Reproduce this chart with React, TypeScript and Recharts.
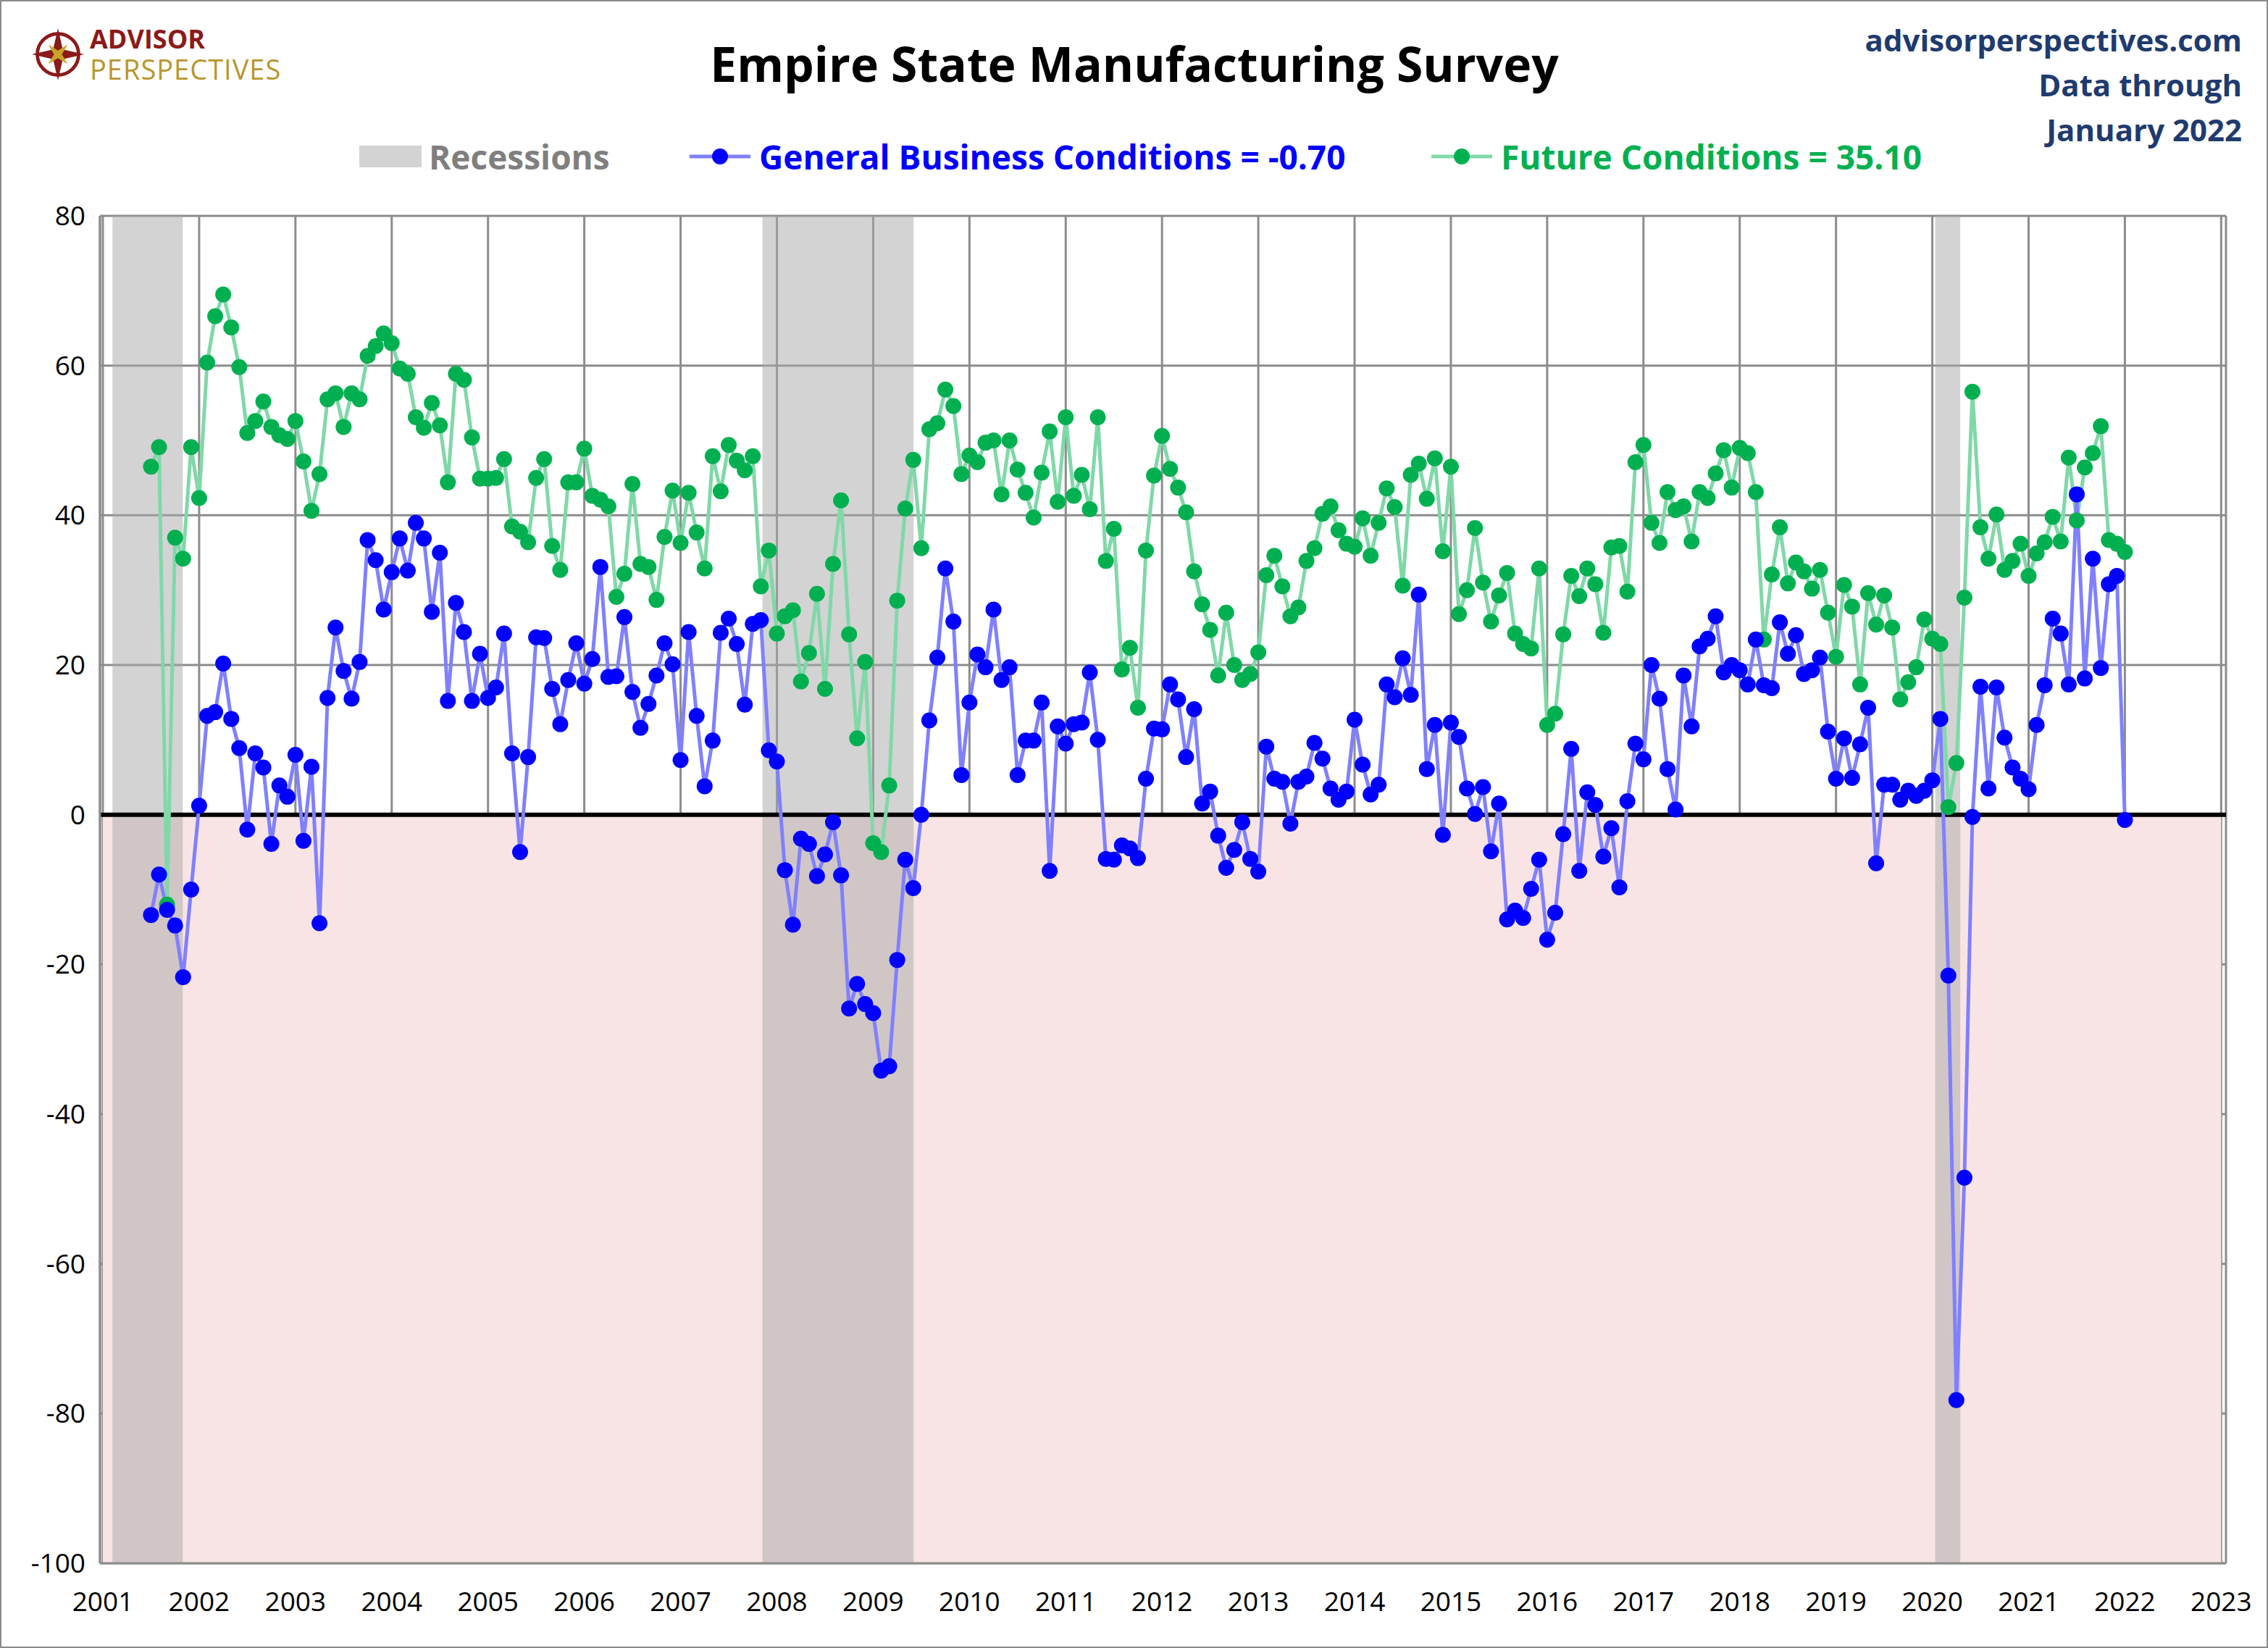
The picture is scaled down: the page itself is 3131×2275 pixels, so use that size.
import React from 'react';
import { LineChart, Line, XAxis, YAxis, CartesianGrid, ReferenceArea, ReferenceLine } from 'recharts';

// monthly readings, July 2001 .. January 2022
const START_YEAR = 2001;
const START_MONTH = 6; // July (0-based)

const generalConditions = [
  -13.4, -8.0, -12.7, -14.8, -21.7, -10.0,
  1.2, 13.2, 13.7, 20.2, 12.8, 8.9, -2.0, 8.2, 6.3, -3.9, 3.9, 2.4,
  8.0, -3.5, 6.4, -14.5, 15.6, 25.0, 19.2, 15.5, 20.4, 36.7, 34.0, 27.4,
  32.4, 36.9, 32.6, 39.0, 36.9, 27.1, 35.0, 15.2, 28.3, 24.4, 15.2, 21.5,
  15.6, 17.0, 24.2, 8.2, -5.0, 7.7, 23.7, 23.6, 16.8, 12.1, 18.0, 22.9,
  17.5, 20.8, 33.1, 18.4, 18.5, 26.4, 16.4, 11.6, 14.8, 18.6, 22.9, 20.1,
  7.3, 24.4, 13.2, 3.8, 9.9, 24.3, 26.2, 22.8, 14.7, 25.5, 26.0, 8.6,
  7.1, -7.4, -14.7, -3.2, -3.9, -8.2, -5.3, -1.0, -8.1, -25.9, -22.6, -25.3,
  -26.5, -34.2, -33.6, -19.4, -6.0, -9.8, 0.0, 12.6, 21.0, 32.9, 25.8, 5.3,
  15.0, 21.4, 19.7, 27.4, 18.0, 19.7, 5.3, 9.9, 9.9, 15.0, -7.5, 11.8,
  9.5, 12.1, 12.3, 19.0, 10.0, -5.9, -6.0, -4.1, -4.5, -5.8, 4.8, 11.5,
  11.4, 17.4, 15.4, 7.7, 14.1, 1.5, 3.1, -2.8, -7.1, -4.7, -1.0, -5.9,
  -7.6, 9.1, 4.8, 4.4, -1.2, 4.4, 5.1, 9.6, 7.5, 3.5, 2.0, 3.1,
  12.7, 6.7, 2.7, 4.0, 17.4, 15.7, 20.9, 16.0, 29.4, 6.1, 12.0, -2.7,
  12.3, 10.4, 3.5, 0.1, 3.7, -4.9, 1.5, -14.0, -12.8, -13.8, -9.9, -6.0,
  -16.7, -13.1, -2.6, 8.8, -7.5, 3.0, 1.3, -5.6, -1.8, -9.7, 1.8, 9.5,
  7.4, 20.0, 15.5, 6.1, 0.7, 18.6, 11.8, 22.5, 23.5, 26.5, 19.0, 20.0,
  19.3, 17.4, 23.4, 17.3, 16.9, 25.7, 21.5, 24.0, 18.8, 19.3, 21.0, 11.1,
  4.8, 10.2, 4.9, 9.4, 14.3, -6.5, 4.0, 4.0, 2.0, 3.2, 2.5, 3.2,
  4.6, 12.8, -21.5, -78.2, -48.5, -0.3, 17.1, 3.5, 17.0, 10.3, 6.3, 4.8,
  3.4, 12.0, 17.3, 26.2, 24.2, 17.4, 42.8, 18.2, 34.2, 19.6, 30.8, 31.9,
  -0.7,
];

const futureConditions = [
  46.5, 49.1, -12.0, 37.0, 34.2, 49.1,
  42.3, 60.4, 66.6, 69.5, 65.1, 59.8, 51.0, 52.6, 55.2, 51.8, 50.7, 50.2,
  52.6, 47.2, 40.6, 45.5, 55.5, 56.3, 51.8, 56.3, 55.5, 61.3, 62.6, 64.3,
  63.0, 59.6, 58.9, 53.1, 51.7, 55.0, 52.0, 44.4, 58.9, 58.1, 50.4, 44.9,
  44.9, 45.0, 47.5, 38.5, 37.8, 36.4, 45.0, 47.5, 35.9, 32.7, 44.4, 44.4,
  48.9, 42.6, 42.1, 41.2, 29.1, 32.2, 44.2, 33.5, 33.1, 28.7, 37.1, 43.3,
  36.3, 43.0, 37.7, 32.9, 47.9, 43.2, 49.4, 47.3, 46.0, 47.9, 30.5, 35.3,
  24.2, 26.5, 27.3, 17.8, 21.6, 29.5, 16.8, 33.5, 42.0, 24.1, 10.2, 20.4,
  -3.8, -5.0, 3.9, 28.6, 40.9, 47.4, 35.6, 51.5, 52.3, 56.8, 54.6, 45.5,
  48.0, 47.1, 49.7, 50.0, 42.8, 50.0, 46.1, 43.0, 39.7, 45.7, 51.2, 41.8,
  53.1, 42.6, 45.4, 40.8, 53.1, 33.9, 38.2, 19.4, 22.3, 14.3, 35.3, 45.3,
  50.6, 46.2, 43.7, 40.4, 32.5, 28.1, 24.7, 18.6, 27.0, 20.0, 18.0, 18.8,
  21.7, 32.0, 34.6, 30.5, 26.5, 27.7, 33.9, 35.6, 40.2, 41.2, 38.0, 36.2,
  35.8, 39.6, 34.6, 39.0, 43.6, 41.1, 30.6, 45.4, 46.9, 42.2, 47.6, 35.2,
  46.5, 26.8, 30.0, 38.3, 31.0, 25.8, 29.3, 32.3, 24.2, 22.8, 22.2, 32.9,
  12.0, 13.5, 24.1, 31.9, 29.2, 32.9, 30.8, 24.3, 35.7, 35.9, 29.8, 47.1,
  49.4, 39.0, 36.3, 43.1, 40.7, 41.2, 36.5, 43.1, 42.3, 45.6, 48.7, 43.7,
  49.0, 48.3, 43.1, 23.4, 32.1, 38.4, 30.9, 33.7, 32.5, 30.2, 32.7, 27.0,
  21.1, 30.7, 27.8, 17.4, 29.6, 25.4, 29.3, 25.0, 15.4, 17.7, 19.7, 26.1,
  23.5, 22.8, 1.0, 6.9, 29.0, 56.5, 38.4, 34.2, 40.1, 32.7, 33.9, 36.2,
  31.9, 34.9, 36.4, 39.8, 36.5, 47.7, 39.3, 46.4, 48.3, 51.9, 36.7, 36.2,
  35.1,
];

// recession spans in fractional years
const recessionStarts = [2001.1, 2007.85, 2020.03];
const recessionEnds = [2001.83, 2009.42, 2020.29];

const yearTicks = Array.from({ length: 23 }, (_, i) => 2001 + i);
const valueTicks = [-100, -80, -60, -40, -20, 0, 20, 40, 60, 80];

const data = generalConditions.map((g, i) => ({
  t: START_YEAR + (START_MONTH + i) / 12,
  general: g,
  future: futureConditions[i],
}));

const FONT = '"Open Sans", sans-serif';

export default function App() {
  return (
    <div style={{ position: 'absolute', left: 0, top: 0, width: 3131, height: 2275, background: '#fff', fontFamily: FONT, boxSizing: 'border-box', border: '2px solid #8c8c8c' }}>
      {/* logo */}
      <div style={{ position: 'absolute', left: 40, top: 32, display: 'flex', alignItems: 'center' }}>
        <svg width={76} height={76} viewBox="-40 -40 80 80">
          <circle r={30} fill="none" stroke="#8b1a1a" strokeWidth={5} />
          <polygon points="0,-38 7,-7 38,0 7,7 0,38 -7,7 -38,0 -7,-7" fill="#8b1a1a" />
          <polygon points="0,-20 4,-4 20,0 4,4 0,20 -4,4 -20,0 -4,-4" fill="#c9a227" transform="rotate(45)" />
        </svg>
        <div style={{ marginLeft: 6 }}>
          <div style={{ color: '#8b1a1a', fontWeight: 700, fontSize: 36, lineHeight: '40px' }}>ADVISOR</div>
          <div style={{ color: '#b8962e', fontSize: 38, lineHeight: '42px', letterSpacing: 1 }}>PERSPECTIVES</div>
        </div>
      </div>
      <div style={{ position: 'absolute', left: 0, width: 3131, top: 40, textAlign: 'center', fontSize: 66, fontWeight: 700, color: '#000' }}>
        <span style={{ marginLeft: -3 }}>Empire State Manufacturing Survey</span>
      </div>
      <div style={{ position: 'absolute', right: 34, top: 22, textAlign: 'right', color: '#1f3b6e', fontWeight: 700, fontSize: 42, lineHeight: '62px' }}>
        <div>advisorperspectives.com</div>
        <div>Data through</div>
        <div>January 2022</div>
      </div>
      {/* legend */}
      <div style={{ position: 'absolute', top: 184, left: 0, height: 60, display: 'flex', alignItems: 'center', fontSize: 46, fontWeight: 700 }}>
        <div style={{ position: 'absolute', left: 494, width: 86, height: 30, background: '#d3d3d3' }} />
        <div style={{ position: 'absolute', left: 590, color: '#7f7f7f', whiteSpace: 'nowrap' }}>Recessions</div>
        <svg style={{ position: 'absolute', left: 950 }} width={84} height={30}>
          <line x1={0} y1={15} x2={84} y2={15} stroke="#8080ff" strokeWidth={5} />
          <circle cx={42} cy={15} r={11} fill="#0000ff" />
        </svg>
        <div style={{ position: 'absolute', left: 1046, color: '#0000ff', whiteSpace: 'nowrap' }}>General Business Conditions = -0.70</div>
        <svg style={{ position: 'absolute', left: 1974 }} width={84} height={30}>
          <line x1={0} y1={15} x2={84} y2={15} stroke="#80d8a8" strokeWidth={5} />
          <circle cx={42} cy={15} r={11} fill="#00b050" />
        </svg>
        <div style={{ position: 'absolute', left: 2070, color: '#00b050', whiteSpace: 'nowrap' }}>Future Conditions = 35.10</div>
      </div>
      <div style={{ position: 'absolute', left: 0, top: 0 }}>
        <LineChart width={3131} height={2275} data={data} margin={{ top: 296, right: 60, bottom: 45, left: 16 }}>
          <ReferenceArea x1={2001} x2={2023} y1={-100} y2={0} fill="#f8e4e4" fillOpacity={1} stroke="none" ifOverflow="hidden" />
          {recessionStarts.map((s, i) => (
            <ReferenceArea key={i} x1={s} x2={recessionEnds[i]} y1={-100} y2={80} fill="#a7a7a7" fillOpacity={0.5} stroke="none" />
          ))}
          <CartesianGrid stroke="#8c8c8c" strokeWidth={3} />
          <XAxis
            dataKey="t"
            type="number"
            domain={[2000.97, 2023.05]}
            ticks={yearTicks}
            interval={0}
            tick={{ fontSize: 37, fill: '#000', fontFamily: FONT }}
            tickLine={false}
            axisLine={{ stroke: '#8c8c8c', strokeWidth: 3 }}
            height={74}
            tickMargin={34}
          />
          <YAxis
            type="number"
            domain={[-100, 80]}
            ticks={valueTicks}
            interval={0}
            tick={{ fontSize: 37, fill: '#000', fontFamily: FONT }}
            tickLine={false}
            axisLine={{ stroke: '#8c8c8c', strokeWidth: 3 }}
            width={120}
            tickMargin={14}
          />
          <ReferenceLine y={0} stroke="#000" strokeWidth={6} />
          <Line
            dataKey="future"
            stroke="#80d8a8"
            strokeWidth={5}
            dot={{ r: 11, fill: '#00b050', stroke: 'none' }}
            isAnimationActive={false}
          />
          <Line
            dataKey="general"
            stroke="#8080ff"
            strokeWidth={5}
            dot={{ r: 11, fill: '#0000ff', stroke: 'none' }}
            isAnimationActive={false}
          />
        </LineChart>
      </div>
    </div>
  );
}
